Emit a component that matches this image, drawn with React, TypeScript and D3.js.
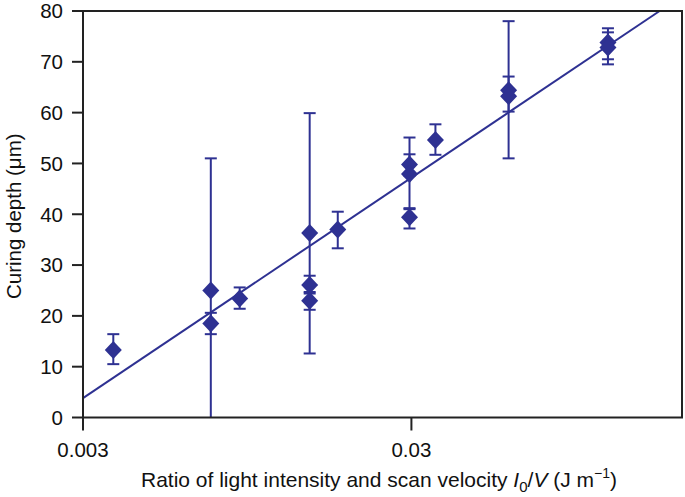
import React from "react";
import * as d3 from "d3";

const xValues = [0.00371, 0.00735, 0.00735, 0.009, 0.0147, 0.0147, 0.0147, 0.0179, 0.0296, 0.0296, 0.0296, 0.0355, 0.0593, 0.0593, 0.119, 0.119];
const yValues = [13.3, 25.0, 18.5, 23.4, 36.3, 26.1, 23.0, 37.0, 49.8, 47.9, 39.4, 54.6, 64.4, 63.2, 73.8, 72.8];
const yLow = [10.5, 0, 16.4, 21.4, 12.6, 24.4, 21.2, 33.3, 47.6, 41.0, 37.2, 51.7, 51.0, 60.2, 70.5, 69.5];
const yHigh = [16.4, 51.0, 20.6, 25.6, 59.9, 27.9, 24.7, 40.5, 51.8, 55.1, 41.2, 57.7, 78.0, 67.1, 76.6, 75.8];

const fitIntercept = 3.8; // value at x = 0.003
const fitSlope = 43.4; // per decade

const xTicks = [0.003, 0.03];
const yTicks = [0, 10, 20, 30, 40, 50, 60, 70, 80];

const W = 685, H = 497;
const left = 83, right = 682, top = 11, bottom = 417.5;
const color = "#2e3192";
const font = "'Liberation Sans', Arial, sans-serif";

export default function App() {
  const x = d3.scaleLog().domain([0.003, 0.2]).range([left, right]);
  const y = d3.scaleLinear().domain([0, 80]).range([bottom, top]);
  const fit = (v: number) => fitIntercept + fitSlope * Math.log10(v / 0.003);
  const xEnd = 0.003 * Math.pow(10, (80 - fitIntercept) / fitSlope);
  const line = d3.line<number>().x((d) => x(d)).y((d) => y(fit(d)));
  const dw = 8.5, dh = 9, cap = 6;
  return (
    <svg width={W} height={H} style={{ position: "absolute", left: 0, top: 0, background: "#fff" }}>
      <rect x={0} y={0} width={W} height={H} fill="#fff" />
      {/* fit line */}
      <path d={line([0.003, xEnd]) || ""} stroke={color} strokeWidth={2} fill="none" />
      {/* error bars */}
      {xValues.map((xv, i) => (
        <g key={"e" + i} stroke={color} strokeWidth={2}>
          <line x1={x(xv)} x2={x(xv)} y1={y(yLow[i])} y2={y(yHigh[i])} />
          <line x1={x(xv) - cap} x2={x(xv) + cap} y1={y(yHigh[i])} y2={y(yHigh[i])} />
          {yLow[i] > 0 && <line x1={x(xv) - cap} x2={x(xv) + cap} y1={y(yLow[i])} y2={y(yLow[i])} />}
        </g>
      ))}
      {/* diamonds */}
      {xValues.map((xv, i) => {
        const cx = x(xv), cy = y(yValues[i]);
        return (
          <path key={"d" + i} d={`M${cx},${cy - dh}L${cx + dw},${cy}L${cx},${cy + dh}L${cx - dw},${cy}Z`} fill={color} />
        );
      })}
      {/* frame */}
      <rect x={left} y={top} width={right - left} height={bottom - top} fill="none" stroke="#222" strokeWidth={2} />
      {/* y ticks */}
      {yTicks.map((t) => (
        <g key={"y" + t}>
          <line x1={left - 11} x2={left} y1={y(t)} y2={y(t)} stroke="#222" strokeWidth={2} />
          <text x={left - 20} y={y(t)} dy="0.36em" textAnchor="end" fontFamily={font} fontSize={20.5} fill="#111">{t}</text>
        </g>
      ))}
      {/* x ticks */}
      {xTicks.map((t) => (
        <g key={"x" + t}>
          <line x1={x(t)} x2={x(t)} y1={bottom} y2={bottom + 13} stroke="#222" strokeWidth={2} />
          <text x={x(t)} y={457} textAnchor="middle" fontFamily={font} fontSize={20.5} fill="#111">{String(t)}</text>
        </g>
      ))}
      {/* y label */}
      <text transform={`translate(21,${(top + bottom) / 2 + 2}) rotate(-90)`} textAnchor="middle" fontFamily={font} fontSize={20.5} fill="#111">Curing depth (μm)</text>
      {/* x label */}
      <text x={379} y={487} textAnchor="middle" fontFamily={font} fontSize={21} fill="#111">
        Ratio of light intensity and scan velocity <tspan fontStyle="italic">I</tspan>
        <tspan fontSize={15} dy={5}>0</tspan>
        <tspan dy={-5}>/</tspan><tspan fontStyle="italic">V</tspan> (J m<tspan fontSize={14} dy={-9}>−1</tspan><tspan dy={9}>)</tspan>
      </text>
    </svg>
  );
}
